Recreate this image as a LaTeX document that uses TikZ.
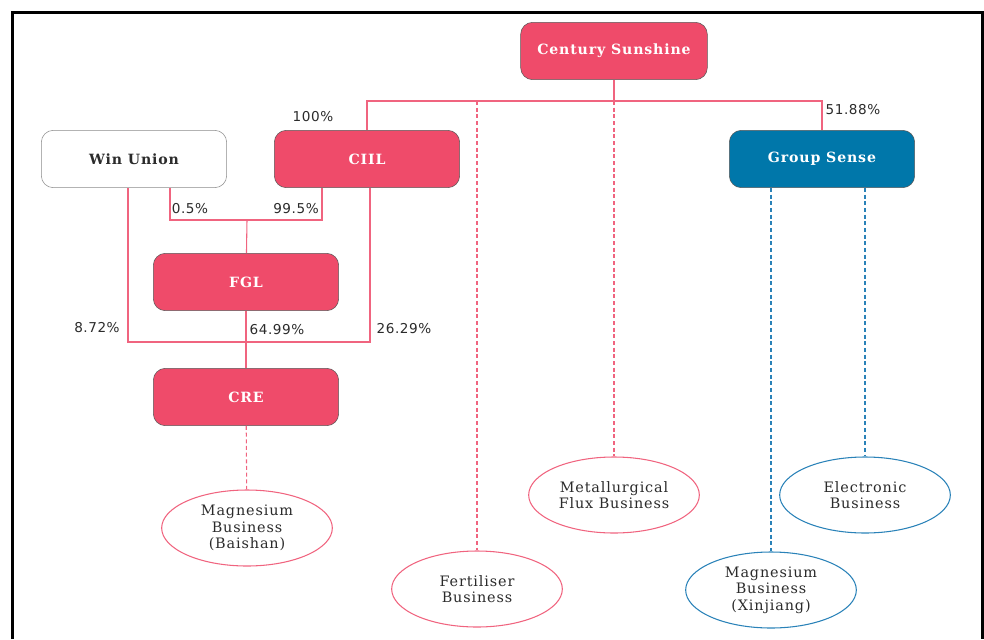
\documentclass[tikz,border=0pt]{standalone}
\usepackage{fontspec}
\setmainfont{DejaVu Serif}
\setsansfont{DejaVu Sans}
\newfontfamily\spacedserif[LetterSpace=6]{DejaVu Serif}
\newfontfamily\spacedsans[LetterSpace=4]{DejaVu Sans}
\usetikzlibrary{shapes.geometric,calc}
\definecolor{csred}{HTML}{EF4B6A}
\definecolor{csline}{HTML}{F0647F}
\definecolor{csblue}{HTML}{0077AA}
\definecolor{csblueline}{HTML}{2A82B8}
\definecolor{cstext}{HTML}{2B2B2B}

\tikzset{
  company/.style={rectangle, draw=black!65, fill=csred, text=white, rounded corners=9pt,
    minimum width=139pt, minimum height=43pt, font=\spacedserif\bfseries\fontsize{10.6}{12}\selectfont},
  business/.style={ellipse, draw=csline, thick, text=cstext, align=center,
    minimum width=128pt, minimum height=57pt, inner sep=0pt, font=\spacedserif\fontsize{10.8}{12.4}\selectfont},
  pct/.style={text=cstext, inner sep=0pt, font=\spacedsans\fontsize{10.2}{11}\selectfont},
  own/.style={csline, thick},
  bizline/.style={csline, thick, dashed, dash pattern=on 3pt off 2pt},
  gsline/.style={csblueline, thick, dashed, dash pattern=on 3pt off 2pt}
}

\begin{document}
\begin{tikzpicture}[x=0.75pt, y=-0.75pt]
  \useasboundingbox (0,0) rectangle (984,639);
  % outer frame, open at the bottom
  \draw[line width=2.3pt] (12.5,639) |- (982.5,12.5) -- (982.5,639);

  % Top company
  \node[company, minimum width=140pt] (cs) at (614,51) {Century Sunshine};

  % Second level
  \node[company, fill=white, draw=black!45, text=cstext] (wu) at (134,159) {Win Union};
  \node[company] (ciil) at (367,159) {CIIL};
  \node[company, fill=csblue] (gs) at (822,159) {Group Sense};

  % Holding companies
  \node[company] (fgl) at (246,282) {FGL};
  \node[company] (cre) at (246,397) {CRE};

  % Businesses
  \node[business] (mgb) at (247,528) {Magnesium\\Business\\(Baishan)};
  \node[business] (fert) at (477,589) {Fertiliser\\Business};
  \node[business] (metal) at (614,495) {Metallurgical\\Flux Business};
  \node[business, draw=csblueline] (mgx) at (771,590) {Magnesium\\Business\\(Xinjiang)};
  \node[business, draw=csblueline] (elec) at (865,495) {Electronic\\Business};

  % Junction points of the holding lines
  \coordinate (topbar) at (614,101);
  \coordinate (fglbar) at (247,220);
  \coordinate (crebar) at (247,342);

  % Century Sunshine holdings
  \draw[own] (cs) -- (topbar);
  \draw[own] (ciil.north) |- (topbar) -| (gs.north);
  \draw[bizline] (fert.north |- topbar) -- (fert);
  \draw[bizline] (topbar) -- (metal);

  % FGL holders
  \draw[own] ($(wu.south)+(36,0)$) |- (fglbar) -| ($(ciil.south)+(-45,0)$);
  \draw[own] (fglbar) -- (fgl);

  % CRE holders
  \draw[own] ($(wu.south)+(-6,0)$) |- (crebar) -| ($(ciil.south)+(3,0)$);
  \draw[own] (fgl) -- (cre);
  \draw[bizline] (cre) -- (mgb);

  % Group Sense businesses
  \draw[gsline] (mgx.north |- gs.south) -- (mgx);
  \draw[gsline] (elec.north |- gs.south) -- (elec);

  % Percentages
  \node[pct] (p100) at (313,117) {100\%};
  \node[pct] (p5188) at (853,110) {51.88\%};
  \node[pct] (p05) at (190,209) {0.5\%};
  \node[pct] (p995) at (296,209) {99.5\%};
  \node[pct] (p872) at (97,328) {8.72\%};
  \node[pct] (p6499) at (277,330) {64.99\%};
  \node[pct] (p2629) at (404,329) {26.29\%};
\end{tikzpicture}
\end{document}
